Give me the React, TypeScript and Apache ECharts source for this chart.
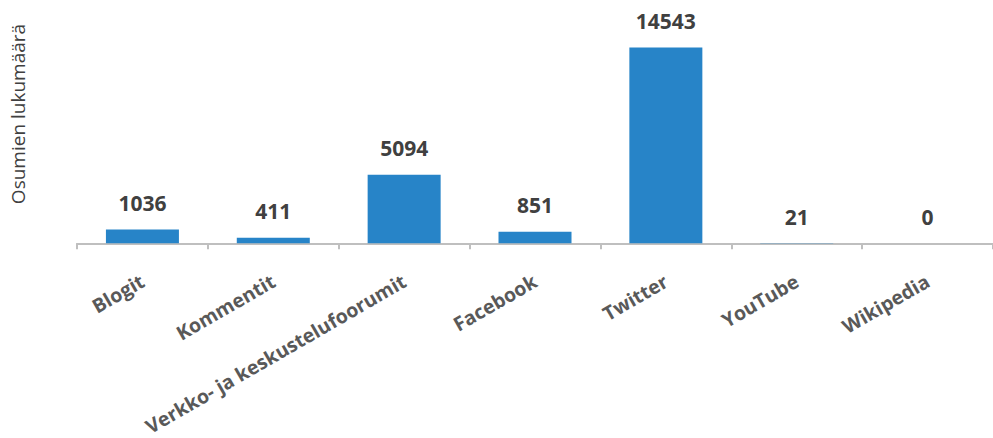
import React, { useEffect, useRef } from "react";
import * as echarts from "echarts";

const categories = [
  "Blogit",
  "Kommentit",
  "Verkko- ja keskustelufoorumit",
  "Facebook",
  "Twitter",
  "YouTube",
  "Wikipedia",
];
const values = [1036, 411, 5094, 851, 14543, 21, 0];
const yAxisTitle = "Osumien lukumäärä";

export default function App() {
  const ref = useRef<HTMLDivElement>(null);
  useEffect(() => {
    if (!ref.current) return;
    const chart = echarts.init(ref.current, undefined, { renderer: "svg" });
    chart.setOption({
      animation: false,
      textStyle: { fontFamily: "Open Sans" },
      grid: { left: 77, right: 0, top: 28, bottom: 188, containLabel: false },
      xAxis: {
        type: "category",
        data: categories,
        axisLine: { lineStyle: { color: "#BFBFBF", width: 2 } },
        axisTick: { show: true, length: 6, lineStyle: { color: "#BFBFBF", width: 2 } },
        axisLabel: {
          rotate: 30,
          margin: 36,
          interval: 0,
          color: "#595959",
          fontSize: 19.5,
          fontWeight: "bold",
          fontFamily: "Open Sans",
        },
      },
      yAxis: {
        type: "value",
        min: 0,
        max: 16000,
        axisLine: { show: false },
        axisTick: { show: false },
        axisLabel: { show: false },
        splitLine: { show: false },
      },
      graphic: [
        {
          type: "text",
          x: 18,
          y: 114,
          rotation: Math.PI / 2,
          style: {
            text: yAxisTitle,
            fill: "#404040",
            fontSize: 19,
            fontFamily: "Open Sans",
            align: "center",
            verticalAlign: "middle",
          },
        },
      ],
      series: [
        {
          type: "bar",
          data: values,
          barWidth: 73,
          itemStyle: { color: "#2784C8" },
          label: {
            show: true,
            position: "top",
            distance: 16,
            color: "#404040",
            fontSize: 21,
            fontWeight: "bold",
            fontFamily: "Open Sans",
          },
        },
      ],
    });
    return () => chart.dispose();
  }, []);
  return (
    <div
      ref={ref}
      style={{ position: "absolute", left: 0, top: 0, width: 993, height: 438 }}
    />
  );
}
